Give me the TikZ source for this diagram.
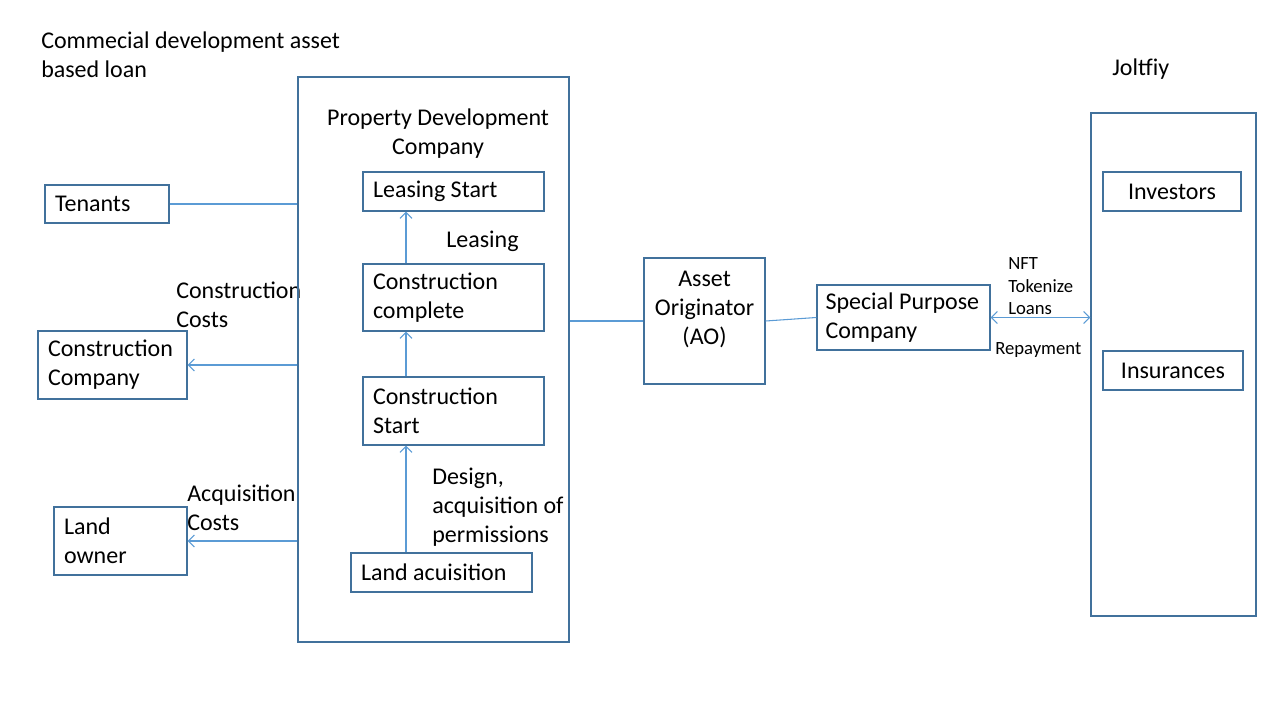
\documentclass[tikz,border=0pt]{standalone}
\usepackage{fontspec}
\setmainfont{Carlito}
\usepackage{tikz}
\usetikzlibrary{arrows.meta}
\usetikzlibrary{calc}
\usetikzlibrary{positioning}
\definecolor{boxblue}{RGB}{65,113,156}
\definecolor{lineblue}{RGB}{91,155,213}

\begin{document}
\begin{tikzpicture}[x=0.75pt,y=-0.75pt,
		every node/.style={font=\fontsize{18}{21.75}\selectfont},
		box/.style={draw=boxblue, line width=1pt, inner xsep=7.5pt, inner ysep=0pt, align=flush left},
		cbox/.style={draw=boxblue, line width=1pt, inner sep=0pt, align=center},
		lbl/.style={inner sep=0pt, anchor=west, align=flush left},
		small/.style={font=\fontsize{14}{16.9}\selectfont},
		conn/.style={draw=lineblue, line width=0.8pt},
		>={Straight Barb[length=4.5pt,width=9pt]}]
		\useasboundingbox (0,0) rectangle (1280,720);

		\node[lbl] (title) at (41,54.5) {Commecial development asset\\based loan};
		\node[lbl] (joltname) at (1112,69) {Joltfiy};

		% left side
		\node[box, text width=78pt, minimum height=28.5pt] (tenants) at (107,204) {Tenants};
		\node[box, text width=96.75pt, minimum height=51pt] (conco) at (112.5,365) {Construction\\Company};
		\node[box, text width=84.75pt, minimum height=51pt] (landowner) at (120.5,541) {Land\\owner};
		\node[lbl] (concost) at (176,305) {Construction\\Costs};
		\node[lbl] (acqcost) at (187,508) {Acquisition\\Costs};

		% property development company
		\node[cbox, minimum width=203.25pt, minimum height=423.75pt] (pdc) at (433.5,359.5) {};
		\node[inner sep=0pt, align=center] (pdcname) at (438,134) {Property Development\\Company};
		\node[box, text width=120.75pt, minimum height=29.25pt] (leasestart) at (453.5,191.5) {Leasing Start};
		\node[box, text width=120.75pt, minimum height=50.25pt] (concomplete) at (453.5,297.5) {Construction\\complete};
		\node[box, text width=120.75pt, minimum height=51pt] (constart) at (453.5,411) {Construction\\Start};
		\node[box, text width=120.75pt, minimum height=29.25pt] (landacq) at (441.5,572.5) {Land acuisition};
		\node[lbl] (leasing) at (446,241) {Leasing};
		\node[lbl] (design) at (432,507) {Design,\\acquisition of\\permissions};
		\coordinate (spine) at (406,0);

		% originator and SPC
		\node[cbox, minimum width=90.75pt, minimum height=94.5pt] (ao) at (704.5,321) {};
		\node[inner sep=0pt, align=center] (aoname) at (704.5,309.5) {Asset\\Originator\\(AO)};
		\node[box, inner xsep=6.4pt, text width=117pt, minimum height=48.75pt] (spc) at (903.5,317.5) {Special Purpose\\Company};
		\node[lbl, small] (nft) at (1008,286.5) {NFT\\Tokenize\\Loans};
		\node[lbl, small] (repay) at (995,350) {Repayment};

		% Joltfiy
		\node[cbox, minimum width=123.75pt, minimum height=377.25pt] (jolt) at (1173.5,364.5) {};
		\node[cbox, minimum width=103.5pt, minimum height=29.25pt] (investors) at (1172,191.5) {Investors};
		\node[cbox, minimum width=105pt, minimum height=29.25pt] (insurances) at (1173,370.5) {Insurances};

		% connectors
		\draw[conn] (tenants.east) -- (tenants.east -| pdc.west);
		\draw[conn,->] (conco.east -| pdc.west) -- (conco.east);
		\draw[conn,->] (landowner.east -| pdc.west) -- (landowner.east);
		\draw[conn,->] (landacq.north -| spine) -- (constart.south -| spine);
		\draw[conn,->] (constart.north -| spine) -- (concomplete.south -| spine);
		\draw[conn,->] (concomplete.north -| spine) -- (leasestart.south -| spine);
		\draw[conn] (ao.west -| pdc.east) -- (ao.west);
		\draw[conn] (ao.east) -- (spc.west);
		\draw[conn,<->] (spc.east) -- (spc.east -| jolt.west);
	\end{tikzpicture}
\end{document}
